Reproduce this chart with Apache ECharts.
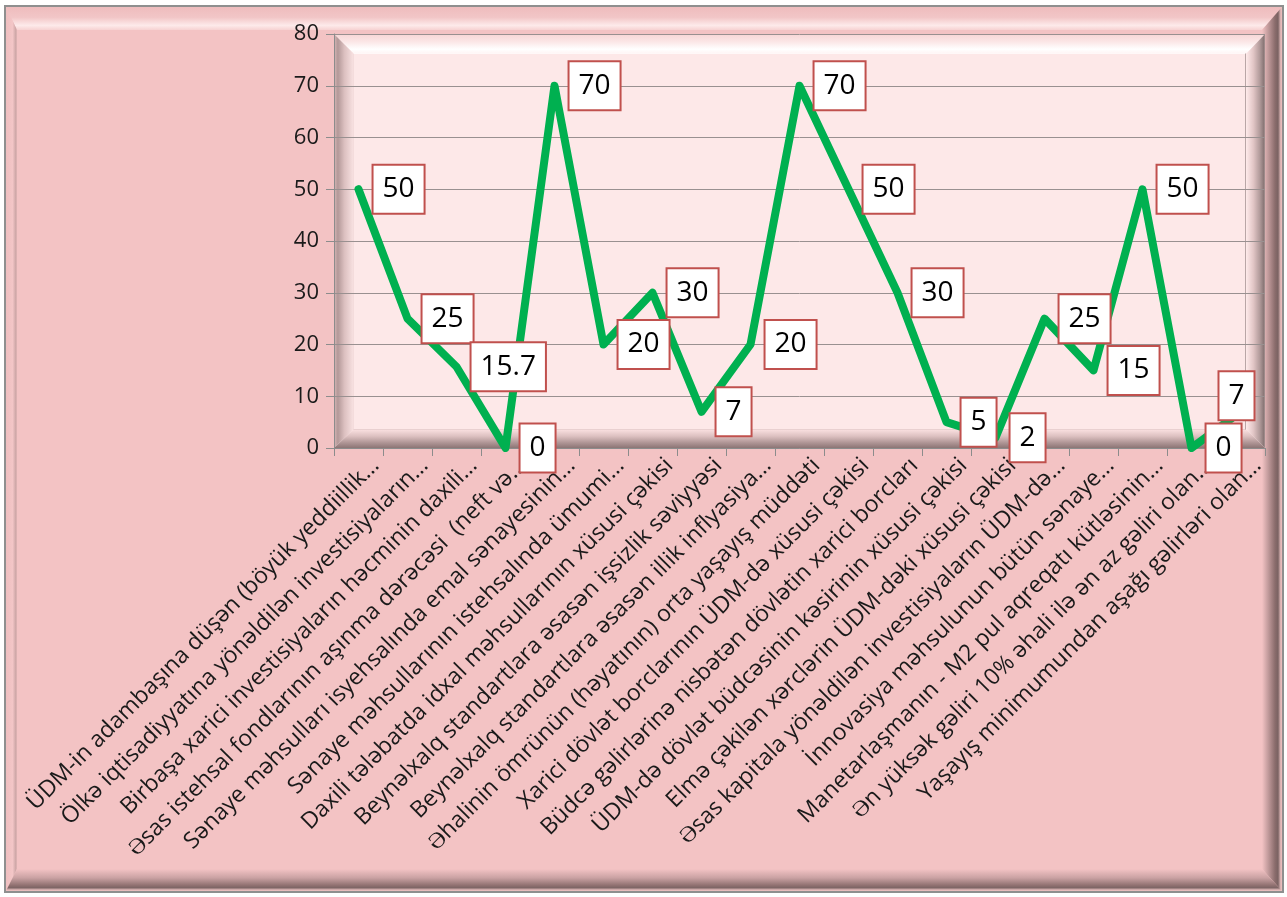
<!DOCTYPE html>
<html><head><meta charset="utf-8">
<script src="https://cdn.jsdelivr.net/npm/echarts@6/dist/echarts.min.js"></script>
<style>
html,body{margin:0;padding:0;background:#fff;}
#wrap{position:relative;width:1287px;height:897px;overflow:hidden;background:#fff;}
.abs{position:absolute;}
#chart{position:absolute;left:0;top:0;width:1287px;height:897px;}
</style>
</head>
<body>
<div id="wrap">
  <div id="bg"></div>
  <div id="chart"></div>
</div>
<script>
const categories = [
  "ÜDM-in adambaşına düşən (böyük yeddiillik…",
  "Ölkə iqtisadiyyatına yönəldilən investisiyaların…",
  "Birbaşa xarici investisiyaların həcminin daxili…",
  "Əsas istehsal fondlarının aşınma dərəcəsi  (neft və…",
  "Sənaye məhsulları isyehsalında emal sənayesinin…",
  "Sənaye məhsullarının istehsalında ümumi…",
  "Daxili tələbatda idxal məhsullarının xüsusi çəkisi",
  "Beynəlxalq standartlara əsasən işsizlik səviyyəsi",
  "Beynəlxalq standartlara əsasən illik inflyasiya…",
  "Əhalinin ömrünün (həyatının) orta yaşayış müddəti",
  "Xarici dövlət borclarının ÜDM-də xüsusi çəkisi",
  "Büdcə gəlirlərinə nisbətən dövlətin xarici borcları",
  "ÜDM-də dövlət büdcəsinin kəsirinin xüsusi çəkisi",
  "Elmə çəkilən xərclərin ÜDM-dəki xüsusi çəkisi",
  "Əsas kapitala yönəldilən investisiyaların ÜDM-də…",
  "İnnovasiya məhsulunun bütün sənaye…",
  "Manetarlaşmanın - M2 pul aqreqatı kütləsinin…",
  "Ən yüksək gəliri 10% əhali ilə ən az gəliri olan…",
  "Yaşayış minimumundan aşağı gəlirləri olan…"
];
const values = [50, 25, 15.7, 0, 70, 20, 30, 7, 20, 70, 50, 30, 5, 2, 25, 15, 50, 0, 7];
const yMin = 0, yMax = 80, yInterval = 10;

// ---- decorative bevel frames (CSS, behind the canvas) ----
const PLOT = {x: 334, y: 34, w: 931, h: 414};
function bevel(parent, x, y, w, h, t, l, r, b, g) {
  const mk = (left, top, width, height, clip, bg) => {
    const d = document.createElement('div');
    d.className = 'abs';
    Object.assign(d.style, {left: left + 'px', top: top + 'px', width: width + 'px', height: height + 'px', clipPath: clip, background: bg});
    parent.appendChild(d);
  };
  mk(x, y, w, t, `polygon(0 0,100% 0,calc(100% - ${r}px) 100%,${l}px 100%)`, `linear-gradient(to bottom,${g.top})`);
  mk(x, y, l, h, `polygon(0 0,100% ${t}px,100% calc(100% - ${b}px),0 100%)`, `linear-gradient(to right,${g.left})`);
  mk(x + w - r, y, r, h, `polygon(0 ${t}px,100% 0,100% 100%,0 calc(100% - ${b}px))`, `linear-gradient(to right,${g.right})`);
  mk(x, y + h - b, w, b, `polygon(${l}px 0,calc(100% - ${r}px) 0,100% 100%,0 100%)`, `linear-gradient(to bottom,${g.bottom})`);
}
const bg = document.getElementById('bg');
(function () {
  const o = document.createElement('div');
  o.className = 'abs';
  Object.assign(o.style, {left: '4px', top: '5px', width: '1280px', height: '888px', background: '#8f8f8f'});
  bg.appendChild(o);
  const p = document.createElement('div');
  p.className = 'abs';
  Object.assign(p.style, {left: '6px', top: '7px', width: '1276px', height: '884px', background: '#F3C3C4'});
  bg.appendChild(p);
  bevel(bg, 6, 7, 1276, 884, 23, 11, 20, 22, {
    top: '#eebcbd 0%,#f2c6c7 45%,#fdeaea 80%,#f6d2d2 100%',
    left: '#efbfc0 0%,#f3c6c7 60%,#c9a3a3 92%,#f3c3c4 100%',
    right: '#f3c3c4 0%,#c39c9d 30%,#8a6c6c 65%,#7a6262 80%,#d7b1b1 92%,#f0c0c0 100%',
    bottom: '#f3c3c4 0%,#caa2a3 40%,#8f7070 75%,#7d6565 85%,#e0b8b8 95%,#f0c0c0 100%'
  });
  const pl = document.createElement('div');
  pl.className = 'abs';
  Object.assign(pl.style, {left: PLOT.x + 'px', top: PLOT.y + 'px', width: PLOT.w + 'px', height: PLOT.h + 'px', background: '#FDE8E8'});
  bg.appendChild(pl);
  bevel(bg, PLOT.x, PLOT.y, PLOT.w, PLOT.h, 19, 19, 18, 18, {
    top: '#f7d6d6 0%,#fbe6e6 40%,#ffffff 80%,#fff6f6 100%',
    left: '#d9b9b9 0%,#b39898 20%,#dcc0c0 55%,#f7e0e0 100%',
    right: '#fbe6e6 0%,#e2c6c6 35%,#b39c9c 70%,#8b7878 92%,#a89494 100%',
    bottom: '#f8dede 0%,#dcc0c0 35%,#b09696 70%,#8c7575 100%'
  });
  const inner = document.createElement('div');
  inner.className = 'abs';
  Object.assign(inner.style, {left: (PLOT.x + 19) + 'px', top: (PLOT.y + 19) + 'px', width: (PLOT.w - 38) + 'px', height: (PLOT.h - 37) + 'px', borderTop: '1px solid #fff8f8', borderLeft: '1px solid #f4dcdc', borderRight: '1px solid #b9a6a6', borderBottom: '1px solid #e9d0d0', boxSizing: 'border-box'});
  bg.appendChild(inner);
})();

// ---- chart ----
const labelOverrides = {18: {position: 'inside', offset: [-4, -16]}};
const seriesData = values.map((v, i) => labelOverrides[i] ? {value: v, label: labelOverrides[i]} : v);

const chart = echarts.init(document.getElementById('chart'), null, {renderer: 'canvas'});
const axisGray = '#8c8c8c';
chart.setOption({
  backgroundColor: 'transparent',
  animation: false,
  grid: [
    {left: PLOT.x, top: PLOT.y, width: PLOT.w, height: PLOT.h, containLabel: false},
    {left: PLOT.x + 17, top: PLOT.y, width: PLOT.w, height: PLOT.h, containLabel: false}
  ],
  xAxis: [
    {
      type: 'category', gridIndex: 0, data: categories, boundaryGap: true,
      axisLine: {show: true, lineStyle: {color: axisGray, width: 1}},
      axisTick: {show: true, length: 8, interval: 0, lineStyle: {color: axisGray}},
      axisLabel: {show: false}, splitLine: {show: false}
    },
    {
      type: 'category', gridIndex: 1, data: categories, boundaryGap: true,
      axisLine: {show: false}, axisTick: {show: false}, splitLine: {show: false},
      axisLabel: {show: true, interval: 0, rotate: 45, margin: 14, fontSize: 23, fontFamily: 'Open Sans', color: '#1a1a1a'}
    }
  ],
  yAxis: [
    {
      type: 'value', gridIndex: 0, min: yMin, max: yMax, interval: yInterval,
      axisLine: {show: true, lineStyle: {color: axisGray, width: 1}},
      axisTick: {show: true, length: 8, lineStyle: {color: axisGray}},
      axisLabel: {margin: 15, fontSize: 22, fontFamily: 'Open Sans', color: '#1a1a1a'},
      splitLine: {show: true, lineStyle: {color: '#999090', width: 1}}
    },
    {type: 'value', gridIndex: 1, min: yMin, max: yMax, show: false}
  ],
  series: [{
    type: 'line', xAxisIndex: 0, yAxisIndex: 0, data: seriesData,
    symbol: 'circle', symbolSize: 0.1, showSymbol: true,
    itemStyle: {color: '#00B050'},
    lineStyle: {color: '#00B050', width: 8, join: 'round', cap: 'round'},
    label: {
      show: true, position: 'right', distance: 15,
      fontFamily: 'Open Sans', fontSize: 28, lineHeight: 33, color: '#000',
      backgroundColor: '#ffffff', borderColor: '#C0504D', borderWidth: 2,
      padding: [7, 9, 7, 9]
    },
    emphasis: {disabled: true}
  }]
});
</script>
</body></html>
